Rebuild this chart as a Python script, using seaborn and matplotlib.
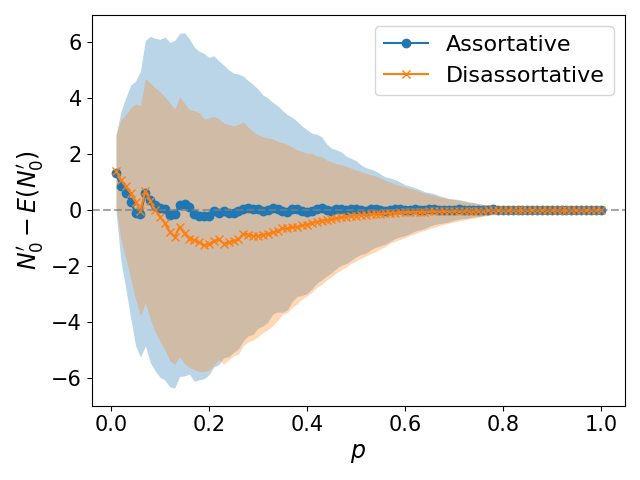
import numpy as np
import pandas as pd
import seaborn as sns
import matplotlib
matplotlib.use('Agg')
import matplotlib.pyplot as plt

# p = 0.01 ... 1.00
p = np.round(np.linspace(0.01, 1.0, 100), 2)

# Assortative: mean and std of N0' - E(N0')
assort_mean = [
    1.30, 0.84, 0.60, 0.30, -0.12, -0.15, 0.60, 0.37, 0.19, 0.06,
    0.05, -0.17, -0.15, 0.18, 0.20, 0.12, -0.15, -0.20, -0.22, -0.22,
    -0.05, -0.10, -0.05, -0.12, -0.10, -0.05, 0.05, 0.06, 0.02, 0.05,
    -0.02, 0.00, 0.06, 0.04, -0.05, -0.08, 0.02, 0.04, -0.03, -0.06,
    -0.04, 0.04, 0.06, 0.00, -0.02, 0.03, 0.05, 0.00, 0.02, 0.04,
    0.01, -0.02, 0.02, 0.03, 0.00, -0.02, 0.01, 0.03, 0.02, -0.01,
    0.00, 0.02, 0.01, -0.01, 0.02, 0.03, 0.01, 0.00, -0.01, 0.01,
    0.02, 0.01, 0.00, 0.01, -0.01, 0.00, 0.01, 0.02, 0.01, 0.00,
    0.00, 0.01, 0.00, -0.01, 0.00, 0.01, 0.00, 0.00, 0.01, 0.00,
    0.00, 0.00, 0.01, 0.00, 0.00, 0.00, 0.00, 0.00, 0.00, 0.00,
]
assort_std = [
    1.35, 2.66, 3.40, 4.15, 4.72, 5.10, 5.45, 5.82, 5.93, 6.03,
    6.12, 6.15, 6.20, 6.12, 6.12, 5.98, 5.96, 5.86, 5.80, 5.66,
    5.55, 5.42, 5.22, 5.12, 4.98, 4.90, 4.72, 4.55, 4.46, 4.26,
    4.12, 4.00, 3.78, 3.68, 3.60, 3.48, 3.28, 3.12, 3.02, 2.92,
    2.78, 2.66, 2.55, 2.36, 2.22, 2.12, 2.02, 1.92, 1.82, 1.72,
    1.60, 1.53, 1.44, 1.36, 1.28, 1.20, 1.13, 1.05, 0.98, 0.91,
    0.85, 0.78, 0.72, 0.66, 0.60, 0.55, 0.50, 0.46, 0.42, 0.38,
    0.35, 0.32, 0.29, 0.26, 0.23, 0.20, 0.18, 0.16, 0.14, 0.12,
    0.10, 0.09, 0.08, 0.07, 0.06, 0.05, 0.045, 0.04, 0.035, 0.03,
    0.025, 0.02, 0.018, 0.015, 0.012, 0.01, 0.008, 0.006, 0.004, 0.0,
]

# Disassortative
disassort_mean = [
    1.40, 1.08, 0.84, 0.60, 0.30, -0.03, 0.68, 0.32, 0.00, -0.24,
    -0.48, -0.78, -0.96, -0.60, -0.84, -1.02, -1.08, -1.15, -1.26, -1.22,
    -1.10, -1.05, -1.20, -1.15, -1.10, -1.05, -0.85, -0.88, -0.92, -0.92,
    -0.88, -0.85, -0.80, -0.75, -0.66, -0.66, -0.62, -0.60, -0.55, -0.52,
    -0.46, -0.42, -0.38, -0.36, -0.34, -0.30, -0.26, -0.24, -0.21, -0.20,
    -0.18, -0.17, -0.15, -0.14, -0.13, -0.12, -0.10, -0.10, -0.09, -0.08,
    -0.07, -0.07, -0.06, -0.06, -0.05, -0.05, -0.05, -0.04, -0.04, -0.03,
    -0.03, -0.03, -0.02, -0.02, -0.02, -0.02, -0.01, -0.01, -0.01, -0.01,
    -0.01, 0.00, -0.01, 0.00, 0.00, 0.00, 0.00, 0.00, 0.00, 0.00,
    0.00, 0.00, 0.00, 0.00, 0.00, 0.00, 0.00, 0.00, 0.00, 0.00,
]
disassort_std = [
    1.29, 2.12, 2.56, 3.05, 3.48, 3.75, 4.00, 4.20, 4.35, 4.46,
    4.51, 4.60, 4.55, 4.64, 4.64, 4.60, 4.62, 4.62, 4.50, 4.50,
    4.44, 4.30, 4.30, 4.20, 4.10, 4.10, 3.99, 3.83, 3.72, 3.60,
    3.50, 3.42, 3.33, 3.20, 3.06, 3.00, 2.86, 2.75, 2.63, 2.54,
    2.48, 2.34, 2.28, 2.14, 2.05, 1.95, 1.88, 1.80, 1.70, 1.62,
    1.55, 1.48, 1.41, 1.35, 1.26, 1.19, 1.08, 1.02, 0.96, 0.91,
    0.84, 0.79, 0.72, 0.67, 0.61, 0.57, 0.51, 0.47, 0.43, 0.40,
    0.36, 0.33, 0.30, 0.27, 0.24, 0.21, 0.19, 0.17, 0.15, 0.13,
    0.11, 0.095, 0.085, 0.075, 0.065, 0.055, 0.048, 0.04, 0.035, 0.03,
    0.025, 0.02, 0.018, 0.015, 0.012, 0.01, 0.008, 0.006, 0.004, 0.0,
]

df = pd.DataFrame({
    'p': p,
    'a_mean': assort_mean, 'a_std': assort_std,
    'd_mean': disassort_mean, 'd_std': disassort_std,
})

fig, ax = plt.subplots(figsize=(6.4, 4.8), dpi=100)

# линии со средним
sns.lineplot(data=df, x='p', y='a_mean', marker='o', color='C0',
             markeredgecolor='C0', markeredgewidth=1.0,
             label='Assortative', ax=ax)
sns.lineplot(data=df, x='p', y='d_mean', marker='x', color='C1',
             markeredgecolor='C1', markeredgewidth=1.0,
             label='Disassortative', ax=ax)

# полосы mean ± std
ax.fill_between(df['p'], df['a_mean'] - df['a_std'], df['a_mean'] + df['a_std'],
                color='C0', alpha=0.3, linewidth=0)
ax.fill_between(df['p'], df['d_mean'] - df['d_std'], df['d_mean'] + df['d_std'],
                color='C1', alpha=0.3, linewidth=0)

ax.axhline(0, color='grey', linestyle='--', alpha=0.7)

ax.set_xlabel('$p$', fontsize=17)
ax.set_ylabel("$N_0' - E(N_0')$", fontsize=17)
ax.tick_params(labelsize=15)
ax.legend(fontsize=16, loc='upper right')

plt.tight_layout()
plt.savefig('out.png', dpi=100)
